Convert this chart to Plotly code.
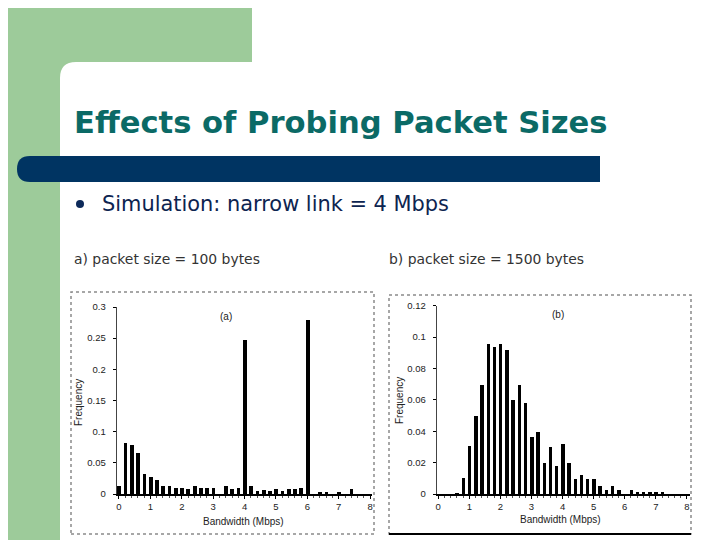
import plotly.graph_objects as go

# ---------------- data ----------------
bins_a = [round(0.2 * k, 1) for k in range(40)]
freq_a = [0.013, 0.082, 0.078, 0.066, 0.032, 0.028, 0.022, 0.013, 0.013, 0.010,
          0.010, 0.008, 0.013, 0.010, 0.010, 0.010, 0.000, 0.013, 0.008, 0.010,
          0.247, 0.013, 0.005, 0.007, 0.005, 0.008, 0.005, 0.008, 0.008, 0.010,
          0.279, 0.000, 0.003, 0.003, 0.000, 0.003, 0.000, 0.008, 0.000, 0.000]

bins_b = [round(0.2 * k, 1) for k in range(40)]
freq_b = [0.000, 0.000, 0.000, 0.001, 0.0105, 0.031, 0.050, 0.0695, 0.096, 0.094,
          0.096, 0.092, 0.060, 0.0695, 0.058, 0.0365, 0.040, 0.020, 0.030, 0.018,
          0.032, 0.020, 0.010, 0.012, 0.010, 0.010, 0.005, 0.003, 0.005, 0.003,
          0.000, 0.003, 0.0015, 0.0015, 0.0015, 0.0015, 0.0015, 0.000, 0.000, 0.000]

x_ticks = [0, 1, 2, 3, 4, 5, 6, 7, 8]
y_ticks_a = [0, 0.05, 0.1, 0.15, 0.2, 0.25, 0.3]
y_labels_a = ["0", "0.05", "0.1", "0.15", "0.2", "0.25", "0.3"]
y_ticks_b = [0, 0.02, 0.04, 0.06, 0.08, 0.1, 0.12]
y_labels_b = ["0", "0.02", "0.04", "0.06", "0.08", "0.1", "0.12"]

title_text = "Effects of Probing Packet Sizes"
bullet_text = "Simulation: narrow link = 4 Mbps"
cap_a = "a) packet size = 100 bytes"
cap_b = "b) packet size = 1500 bytes"

W, H = 720, 540
OFF = 8  # page body margin offset of the plot div
GREEN = "#9dcb9a"
NAVY = "#003462"
TEAL = "#0b6a66"


def px(x):
    return (x - OFF) / W


def py(y):
    return (H - (y - OFF)) / H


fig = go.Figure()
fig.add_trace(go.Bar(x=bins_a, y=freq_a, width=0.12, marker=dict(color="black", line_width=0),
                     xaxis="x", yaxis="y", showlegend=False))
fig.add_trace(go.Bar(x=bins_b, y=freq_b, width=0.11, marker=dict(color="black", line_width=0),
                     xaxis="x2", yaxis="y2", showlegend=False))

tickfont = dict(family="Liberation Sans, Arial", size=9.5, color="#222")
common_x = dict(tickvals=x_ticks, ticktext=[str(v) for v in x_ticks], ticks="outside", ticklen=3,
                tickcolor="black", showline=True, linecolor="black", linewidth=1.5,
                showgrid=False, zeroline=False, tickfont=tickfont, fixedrange=True, automargin=False,
                minor=dict(dtick=0.2, ticks="outside", ticklen=2, tickcolor="#555"))
common_y = dict(ticks="outside", ticklen=3, tickcolor="black", showline=True, linecolor="#444",
                linewidth=1, showgrid=False, zeroline=False, tickfont=tickfont, fixedrange=True,
                automargin=False, ticklabelstandoff=5)

fig.update_layout(
    width=W, height=H, autosize=False,
    margin=dict(l=0, r=0, t=0, b=0, pad=0, autoexpand=False),
    paper_bgcolor="white", plot_bgcolor="rgba(0,0,0,0)",
    bargap=0,
    xaxis=dict(domain=[px(116.7), px(372)], range=[-0.073, 8.06], anchor="y", **common_x),
    yaxis=dict(domain=[py(494), py(307)], range=[0, 0.3], anchor="x",
               tickvals=y_ticks_a, ticktext=y_labels_a, **common_y),
    xaxis2=dict(domain=[px(436.7), px(690)], range=[-0.05, 8.1], anchor="y2", **common_x),
    yaxis2=dict(domain=[py(494), py(305.7)], range=[0, 0.12], anchor="x2",
                tickvals=y_ticks_b, ticktext=y_labels_b, **common_y),
)

shapes = []
r = 16
green_path = (f"M {px(0)},{py(0)} L {px(252)},{py(0)} L {px(252)},{py(62)} "
              f"L {px(60 + r)},{py(62)} Q {px(60)},{py(62)} {px(60)},{py(62 + r)} "
              f"L {px(60)},{py(548)} L {px(0)},{py(548)} Z")
shapes.append(dict(type="path", path=green_path, xref="paper", yref="paper",
                   fillcolor=GREEN, line=dict(width=0), layer="below"))
rb = 13
bar_path = (f"M {px(17 + rb)},{py(156)} L {px(600)},{py(156)} L {px(600)},{py(182)} "
            f"L {px(17 + rb)},{py(182)} Q {px(17)},{py(182)} {px(17)},{py(169)} "
            f"Q {px(17)},{py(156)} {px(17 + rb)},{py(156)} Z")
shapes.append(dict(type="path", path=bar_path, xref="paper", yref="paper",
                   fillcolor=NAVY, line=dict(width=0), layer="below"))
shapes.append(dict(type="circle", xref="paper", yref="paper",
                   x0=px(76), x1=px(84), y0=py(208), y1=py(200),
                   fillcolor="#0d2a5a", line=dict(width=0)))
shapes.append(dict(type="rect", xref="paper", yref="paper",
                   x0=px(71), x1=px(374), y0=py(534), y1=py(292),
                   line=dict(color="#8a8a8a", width=1.5, dash="dot"), layer="below"))
shapes.append(dict(type="rect", xref="paper", yref="paper",
                   x0=px(389), x1=px(691), y0=py(534), y1=py(295),
                   line=dict(color="#8a8a8a", width=1.5, dash="dot"), layer="below"))
shapes.append(dict(type="line", xref="paper", yref="paper",
                   x0=px(389), x1=px(691), y0=py(534), y1=py(534),
                   line=dict(color="black", width=2)))
fig.update_layout(shapes=shapes)

axfont = dict(family="Liberation Sans, Arial", size=10, color="#222")
slidefont = "DejaVu Sans, Verdana, sans-serif"
annotations = [
    dict(text=f"<b>{title_text}</b>", x=px(72), y=py(122), xanchor="left", yanchor="middle",
         font=dict(family=slidefont, size=30.6, color=TEAL)),
    dict(text=bullet_text, x=px(100), y=py(204), xanchor="left", yanchor="middle",
         font=dict(family=slidefont, size=20.9, color="#0d2450")),
    dict(text=cap_a, x=px(72), y=py(259), xanchor="left", yanchor="middle",
         font=dict(family=slidefont, size=13.9, color="#333")),
    dict(text=cap_b, x=px(387), y=py(259), xanchor="left", yanchor="middle",
         font=dict(family=slidefont, size=13.9, color="#333")),
    dict(text="(a)", x=px(226), y=py(316), xanchor="center", yanchor="middle", font=axfont),
    dict(text="(b)", x=px(558), y=py(314), xanchor="center", yanchor="middle", font=axfont),
    dict(text="Frequency", x=px(79), y=py(403), xanchor="center", yanchor="middle",
         textangle=-90, font=axfont),
    dict(text="Frequency", x=px(400), y=py(400), xanchor="center", yanchor="middle",
         textangle=-90, font=axfont),
    dict(text="Bandwidth (Mbps)", x=px(243), y=py(521), xanchor="center", yanchor="middle",
         font=axfont),
    dict(text="Bandwidth (Mbps)", x=px(560), y=py(519), xanchor="center", yanchor="middle",
         font=axfont),
]
for a in annotations:
    a.setdefault("xref", "paper")
    a.setdefault("yref", "paper")
    a["showarrow"] = False
fig.update_layout(annotations=annotations)

fig.write_html("out.html")
